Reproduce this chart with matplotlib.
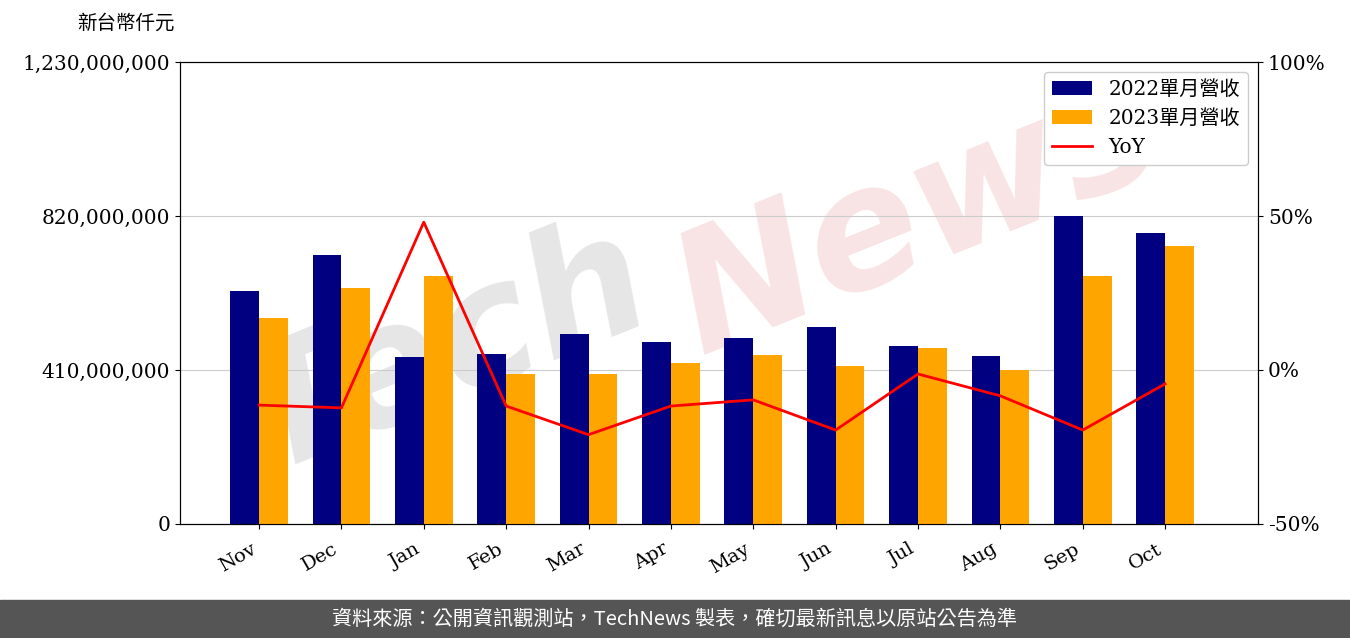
import matplotlib.pyplot as plt
import numpy as np
from matplotlib.patches import Rectangle

months = ['Nov', 'Dec', 'Jan', 'Feb', 'Mar', 'Apr', 'May', 'Jun', 'Jul', 'Aug', 'Sep', 'Oct']
rev_2022 = [620e6, 716e6, 445e6, 453e6, 506e6, 485e6, 495e6, 524e6, 474e6, 447e6, 820e6, 775e6]
rev_2023 = [548e6, 628e6, 660e6, 399e6, 399e6, 429e6, 450e6, 421e6, 468e6, 410e6, 660e6, 740e6]
yoy = [-11.4, -12.3, 48.0, -11.7, -21.0, -11.7, -9.7, -19.5, -1.3, -8.4, -19.5, -4.5]
left_ticks = [0, 410e6, 820e6, 1230e6]
right_ticks = [-50, 0, 50, 100]

serif = ['DejaVu Serif', 'Noto Sans CJK TC']
cjk = ['Noto Sans CJK TC', 'DejaVu Sans']

fig = plt.figure(figsize=(13.5, 6.38), dpi=100)
ax = fig.add_axes([0.1333, 0.1787, 0.7987, 0.7241])

# faint watermark behind the bars
ax.text(0.33, 0.45, 'Tech', transform=fig.transFigure, fontsize=120, color='#e6e6e6',
        rotation=22, ha='center', va='center', fontweight='bold', fontstyle='italic', zorder=0)
ax.text(0.68, 0.66, 'News', transform=fig.transFigure, fontsize=120, color='#f8e4e4',
        rotation=22, ha='center', va='center', fontweight='bold', fontstyle='italic', zorder=0)

x = np.arange(len(months))
w = 0.35
ax.bar(x - w / 2, rev_2022, w, color='#000080', label='2022單月營收', zorder=3)
ax.bar(x + w / 2, rev_2023, w, color='#ffa500', label='2023單月營收', zorder=3)
ax.set_ylim(0, 1230e6)
ax.set_yticks(left_ticks)
ax.set_yticklabels([f'{int(v):,}' for v in left_ticks], family=serif, fontsize=14.5)
ax.grid(axis='y', color='#cccccc', zorder=1)
ax.set_xlim(-0.96, 12.13)
ax.set_xticks(x)
ax.set_xticklabels(months, rotation=30, ha='right', family=serif, fontsize=14)
ax.tick_params(axis='x', pad=8)

ax2 = ax.twinx()
ax2.plot(x, yoy, color='red', linewidth=2, label='YoY')
ax2.set_ylim(-50, 100)
ax2.set_yticks(right_ticks)
ax2.set_yticklabels([f'{v}%' for v in right_ticks], family=serif, fontsize=14.5)

h1, l1 = ax.get_legend_handles_labels()
h2, l2 = ax2.get_legend_handles_labels()
ax2.legend(h1 + h2, l1 + l2, loc='upper right', prop={'family': serif, 'size': 14.5},
           framealpha=1)

fig.text(0.057, 0.955, '新台幣仟元', family=cjk, fontsize=14)

fig.patches.append(Rectangle((0, 0), 1, 38 / 638, transform=fig.transFigure,
                             color='#555555', zorder=5))
fig.text(0.5, 19 / 638, '資料來源：公開資訊觀測站，TechNews 製表，確切最新訊息以原站公告為準',
         color='white', ha='center', va='center', family=cjk, fontsize=14.5, zorder=6)

fig.savefig('out.png', dpi=100)
